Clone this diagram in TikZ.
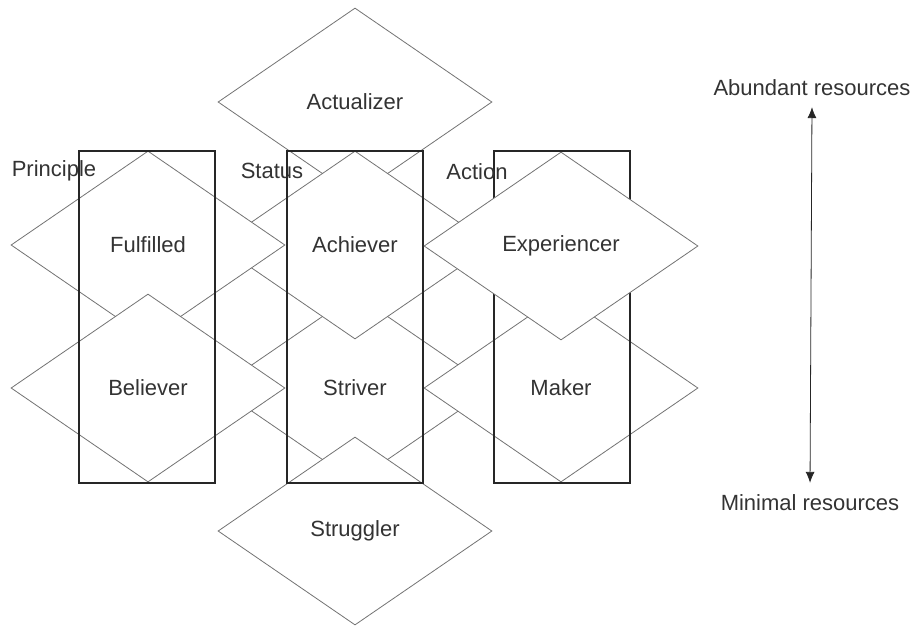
\documentclass[tikz,border=0pt]{standalone}
\usepackage{fontspec}
\setmainfont{Liberation Sans}
\usetikzlibrary{shapes.geometric, arrows.meta}

\begin{document}
\begin{tikzpicture}[x=0.5pt, y=-0.5pt, every node/.style={font=\fontsize{11}{13}\selectfont, text=black!80},
  segment/.style={diamond, draw=black!55, fill=white, inner sep=0pt, minimum width=137pt, minimum height=94pt},
  column/.style={draw=black!85, line width=0.6pt, inner sep=0pt, minimum width=68pt, minimum height=166pt},
  >={Latex[length=5.5pt, width=4.5pt]}]

\useasboundingbox (0,0) rectangle (915,628);

% segments, back to front
\foreach \name/\x/\y/\txt in {actualizer/355/102/Actualizer, striver/355/388/Striver, achiever/355/245/Achiever,
    maker/561/388/Maker, fulfilled/148/245/Fulfilled, believer/148/388/Believer, struggler/355/531/Struggler}
  \node[segment] (\name) at (\x,\y) {\txt};

% orientation columns
\foreach \name/\x in {principle/147, status/355, action/562}
  \node[column] (\name) at (\x,317) {};

\node[segment] (experiencer) at (561,246) {Experiencer};

\node (principleLbl) at (54,171) {Principle};
\node (statusLbl) at (272,171) {Status};
\node (actionLbl) at (477,172) {Action};

\node (abundant) at (812,88) {Abundant resources};
\node (minimal) at (810,503) {Minimal resources};
\draw[<->, black!85, shorten <=2pt, shorten >=2.5pt] (abundant.south) -- (minimal.north);

\end{tikzpicture}
\end{document}
